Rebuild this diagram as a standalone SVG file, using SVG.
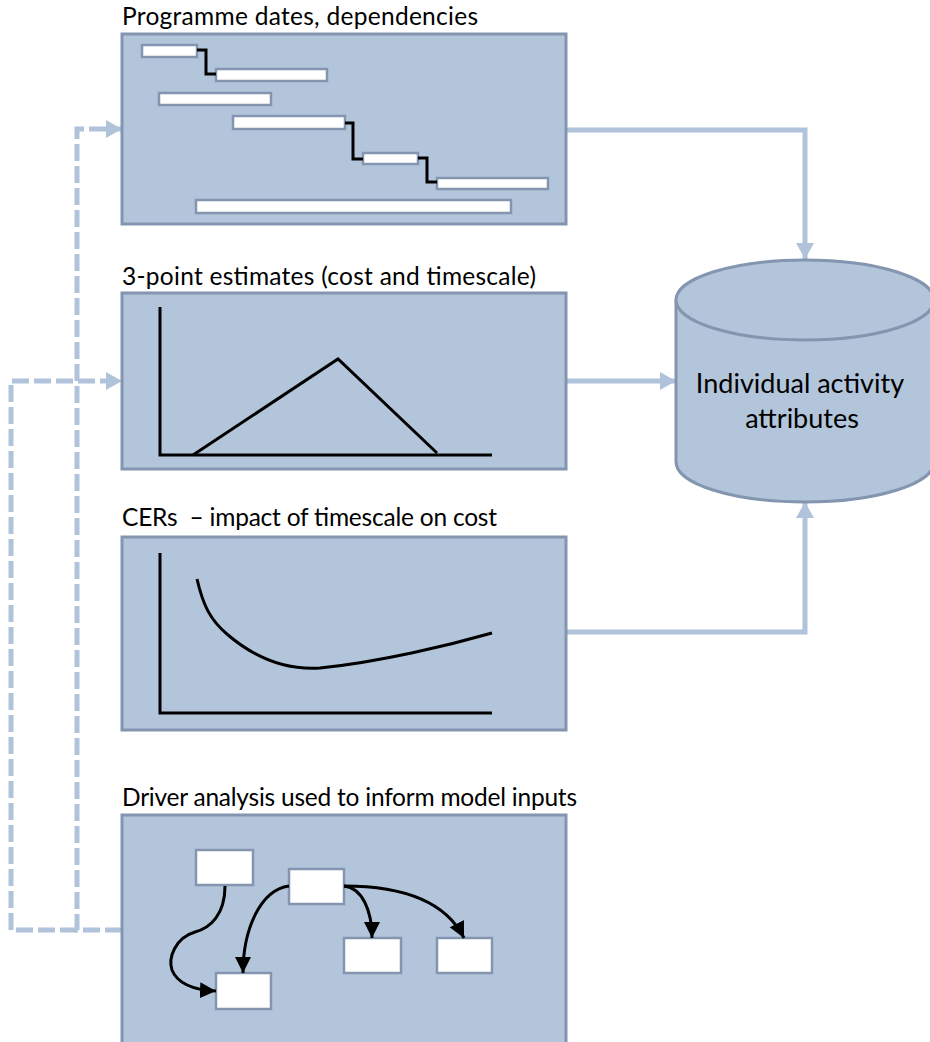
<svg xmlns="http://www.w3.org/2000/svg" width="930" height="1042" viewBox="0 0 930 1042">
  <style>
    .panel { fill: #B3C5DB; stroke: #8496AF; stroke-width: 3; }
    .bar { fill: #FFFFFF; stroke: #8496AF; stroke-width: 2.5; }
    .ink { fill: none; stroke: #000000; stroke-width: 3; stroke-linejoin: miter; }
    .title { font-family: Lato, "Liberation Sans", sans-serif; font-size: 24.5px; fill: #000000; }
    .flow { fill: none; stroke: #B0C3DB; stroke-width: 5; }
    .dash { fill: none; stroke: #B0C3DB; stroke-width: 5; stroke-dasharray: 17 5; }
  </style>
  <defs>
    <marker id="flowHead" markerUnits="userSpaceOnUse" markerWidth="20" markerHeight="20" refX="16" refY="9" orient="auto">
      <path d="M0,0 L16,9 L0,18 Z" fill="#B0C3DB"/>
    </marker>
    <marker id="inkHead" markerUnits="userSpaceOnUse" markerWidth="18" markerHeight="18" refX="16" refY="8" orient="auto">
      <path d="M0,0 L16,8 L0,16 Z" fill="#000000"/>
    </marker>
  </defs>

  <!-- connectors -->
  <g id="connectors">
    <polyline class="flow" points="566,130 805,130 805,259" marker-end="url(#flowHead)"/>
    <polyline class="flow" points="566,381 676,381" marker-end="url(#flowHead)"/>
    <polyline class="flow" points="566,632 805,632 805,502" marker-end="url(#flowHead)"/>
    <polyline class="dash" points="122,930 77,930 77,129 122,129" marker-end="url(#flowHead)"/>
    <polyline class="dash" points="77,930 11,930 11,381 122,381" marker-end="url(#flowHead)"/>
  </g>

  <!-- programme dates panel -->
  <g id="programme">
    <text class="title" x="122" y="25" textLength="356">Programme dates, dependencies</text>
    <rect class="panel" x="122" y="34" width="444" height="190"/>
    <rect class="bar" x="142" y="45" width="55" height="12"/>
    <rect class="bar" x="216" y="69" width="111" height="12"/>
    <rect class="bar" x="159" y="93" width="112" height="12"/>
    <rect class="bar" x="233" y="116" width="112" height="13"/>
    <rect class="bar" x="363" y="153" width="55" height="11"/>
    <rect class="bar" x="437" y="178" width="111" height="11"/>
    <rect class="bar" x="196" y="200" width="315" height="13"/>
    <polyline class="ink" points="197,50 206,50 206,74 216,74"/>
    <polyline class="ink" points="345,123 353,123 353,159 363,159"/>
    <polyline class="ink" points="418,158 427,158 427,182 437,182"/>
  </g>

  <!-- three-point estimates panel -->
  <g id="estimates">
    <text class="title" x="122" y="285" textLength="414">3-point estimates (cost and timescale)</text>
    <rect class="panel" x="122" y="293" width="444" height="176"/>
    <polyline class="ink" points="160,307 160,455 492,455"/>
    <polyline class="ink" points="193,455 338,359 437,453"/>
  </g>

  <!-- CER panel -->
  <g id="cers">
    <text class="title" x="122" y="526" textLength="375" xml:space="preserve">CERs  – impact of timescale on cost</text>
    <rect class="panel" x="122" y="537" width="444" height="193"/>
    <polyline class="ink" points="160,553 160,713 492,713"/>
    <path class="ink" d="M197,579 C203,605 210,620 228,635 C260,662 290,670 320,668 C380,662 450,645 492,633"/>
  </g>

  <!-- driver analysis panel -->
  <g id="drivers">
    <text class="title" x="122" y="806" textLength="455">Driver analysis used to inform model inputs</text>
    <rect class="panel" x="122" y="815" width="444" height="232"/>
    <rect class="bar" x="196" y="850" width="57" height="35"/>
    <rect class="bar" x="289" y="869" width="55" height="35"/>
    <rect class="bar" x="344" y="938" width="57" height="35"/>
    <rect class="bar" x="437" y="938" width="55" height="35"/>
    <rect class="bar" x="216" y="973" width="55" height="36"/>
    <path class="ink" d="M225,886 C225,915 210,928 195,932 C175,938 168,958 172,970 C178,985 195,990 216,991" marker-end="url(#inkHead)"/>
    <path class="ink" d="M289,886 C260,890 243,930 243,973" marker-end="url(#inkHead)"/>
    <path class="ink" d="M344,886 C362,888 372,910 372,938" marker-end="url(#inkHead)"/>
    <path class="ink" d="M344,886 C400,886 445,900 464,938" marker-end="url(#inkHead)"/>
  </g>

  <!-- activity attribute store -->
  <g id="store">
    <path class="panel" d="M676,300 L676,462 A129,40 0 0 0 934,462 L934,300"/>
    <ellipse class="panel" cx="805" cy="300" rx="129" ry="40"/>
    <text class="title" x="800" y="393" text-anchor="middle" style="font-size:27px">Individual activity</text>
    <text class="title" x="802" y="428" text-anchor="middle" style="font-size:27px">attributes</text>
  </g>
</svg>
